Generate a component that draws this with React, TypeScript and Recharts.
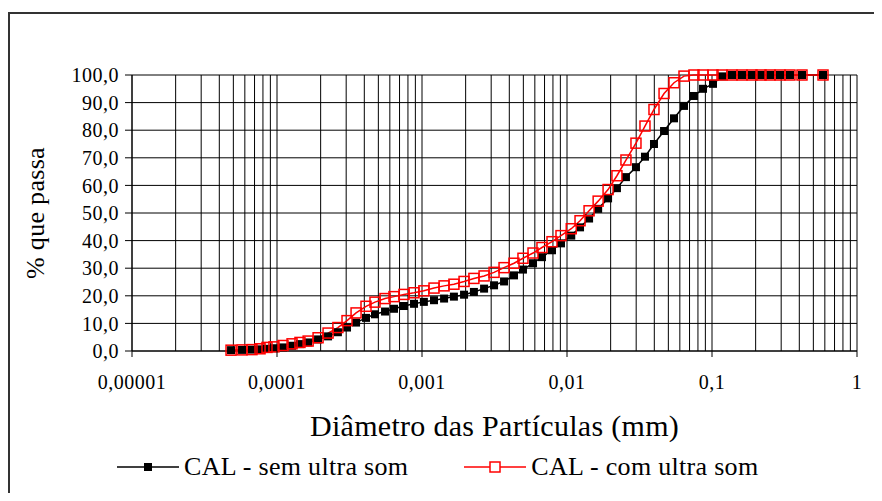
import { LineChart, Line, XAxis, YAxis, CartesianGrid, Legend } from 'recharts'

// diâmetro das partículas (mm)
const diametros = [
  0.0000482, 0.0000574, 0.0000672, 0.0000764, 0.0000853, 0.0000953, 0.00011, 0.000127,
  0.000144, 0.000164, 0.000192, 0.000225, 0.000263, 0.000304, 0.000351, 0.000411,
  0.000474, 0.000556, 0.000641, 0.000751, 0.000881, 0.00103, 0.00121, 0.00142,
  0.00166, 0.00195, 0.00228, 0.00268, 0.00314, 0.00368, 0.00431, 0.00497,
  0.00583, 0.00672, 0.00788, 0.00909, 0.0107, 0.0123, 0.0142, 0.0164,
  0.0192, 0.0221, 0.0255, 0.0299, 0.0345, 0.0398, 0.0467, 0.0547,
  0.0641, 0.0751, 0.0867, 0.1016, 0.1172, 0.1374, 0.161, 0.1888,
  0.2178, 0.2512, 0.2944, 0.345, 0.4175, 0.5829,
]

// % que passa
const semUltraSom = [
  0.3, 0.4, 0.5, 0.6, 0.8, 1.0, 1.3, 1.9,
  2.5, 3.1, 4.2, 5.3, 6.8, 8.5, 10.3, 12.0,
  13.3, 14.3, 15.3, 16.3, 17.1, 17.8, 18.4, 19.0,
  19.7, 20.4, 21.4, 22.6, 23.8, 25.2, 27.4, 29.5,
  31.8, 34.0, 36.5, 39.0, 41.8, 44.8, 48.0, 51.5,
  55.3, 59.0, 63.0, 66.6, 70.4, 75.0, 79.7, 84.3,
  88.8, 92.4, 95.0, 96.8, 99.5, 100, 100, 100,
  100, 100, 100, 100, 100, 100,
]

const comUltraSom = [
  0.3, 0.4, 0.5, 0.8, 1.3, 1.5, 2.0, 2.6,
  3.1, 3.6, 4.8, 6.5, 8.5, 11.0, 13.8, 16.2,
  17.7, 19.0, 19.7, 20.5, 21.1, 21.8, 22.8, 23.6,
  24.2, 25.2, 26.3, 27.2, 28.5, 30.2, 31.8, 33.6,
  35.5, 37.5, 39.6, 41.8, 44.3, 47.2, 50.8, 54.3,
  58.5, 63.5, 69.2, 75.3, 81.5, 87.5, 93.3, 97.2,
  99.6, 100, 100, 100, 100, 100, 100, 100,
  100, 100, 100, 100, 100, 100,
]

const decadas = [0.00001, 0.0001, 0.001, 0.01, 0.1, 1]
const rotulosX = ['0,00001', '0,0001', '0,001', '0,01', '0,1', '1']
const ticksY = [0, 10, 20, 30, 40, 50, 60, 70, 80, 90, 100]
const multiplicadores = [1, 2, 3, 4, 5, 6, 7, 8, 9]

const ticksX = [
  ...decadas.slice(0, -1).flatMap((d) => multiplicadores.map((m) => d * m)),
  1,
]

const data = diametros.map((d, i) => ({
  d,
  sem: semUltraSom[i],
  com: comUltraSom[i],
}))

const FONT = "'Liberation Serif', 'Times New Roman', serif"

function XTick({ x, y, payload }: any) {
  const v = payload.value
  const idx = decadas.findIndex((d) => Math.abs(Math.log10(v) - Math.log10(d)) < 1e-6)
  if (idx < 0) return <g />
  return (
    <g>
      <line x1={x} x2={x} y1={y} y2={y + 6} stroke="#000" strokeWidth={1} />
      <text
        x={x}
        y={y + 31}
        textAnchor="middle"
        dominantBaseline="central"
        fill="#000"
        style={{ fontFamily: FONT, fontSize: 20, letterSpacing: 0.5 }}
      >
        {rotulosX[idx]}
      </text>
    </g>
  )
}

function BlackDot(p: any) {
  if (p.cx == null || p.cy == null) return <g key={`b-${p.index}`} />
  return <rect key={`b-${p.index}`} x={p.cx - 4} y={p.cy - 4} width={8} height={8} fill="#000" />
}

function RedDot(p: any) {
  if (p.cx == null || p.cy == null) return <g key={`r-${p.index}`} />
  return (
    <rect
      key={`r-${p.index}`}
      x={p.cx - 5}
      y={p.cy - 5}
      width={10}
      height={10}
      fill="none"
      stroke="#ff0000"
      strokeWidth={1.5}
    />
  )
}

function LegendContent() {
  const item = (color: string, filled: boolean, text: string) => (
    <div style={{ display: 'flex', alignItems: 'center' }}>
      <svg width={62} height={14}>
        <line x1={0} x2={62} y1={7} y2={7} stroke={color} strokeWidth={1.5} />
        {filled ? (
          <rect x={27} y={3} width={8} height={8} fill={color} />
        ) : (
          <rect x={26} y={2} width={10} height={10} fill="#fff" stroke={color} strokeWidth={1.5} />
        )}
      </svg>
      <span style={{ marginLeft: 5, fontFamily: FONT, fontSize: 26, letterSpacing: 0.3, color: '#000', lineHeight: '28px' }}>
        {text}
      </span>
    </div>
  )
  return (
    <div style={{ display: 'flex', alignItems: 'center', gap: 56, paddingLeft: 109, height: 28 }}>
      {item('#000', true, 'CAL - sem ultra som')}
      {item('#ff0000', false, 'CAL - com ultra som')}
    </div>
  )
}

export default function App() {
  return (
    <div style={{ position: 'relative', width: 866, height: 485, overflow: 'hidden', background: '#fff' }}>
      <div
        style={{
          position: 'absolute',
          left: 0,
          top: 4,
          width: 900,
          height: 600,
          borderLeft: '2px solid #333',
          borderTop: '2px solid #333',
          pointerEvents: 'none',
        }}
      />
      <LineChart
        width={866}
        height={485}
        data={data}
        margin={{ top: 67, right: 17, bottom: 0, left: 0 }}
        style={{ position: 'absolute', left: 0, top: 0 }}
      >
        <CartesianGrid stroke="#000" strokeWidth={1} />
        <XAxis
          dataKey="d"
          type="number"
          scale="log"
          domain={[0.00001, 1]}
          ticks={ticksX}
          interval={0}
          height={114}
          axisLine={{ stroke: '#000' }}
          tickLine={false}
          tickSize={0}
          tickMargin={0}
          tick={<XTick />}
          label={{
            content: ({ viewBox }: any) => (
              <text
                x={viewBox.x + viewBox.width / 2}
                y={viewBox.y + 74}
                textAnchor="middle"
                dominantBaseline="central"
                fill="#000"
                style={{ fontFamily: FONT, fontSize: 30, letterSpacing: 0.3 }}
              >
                Diâmetro das Partículas (mm)
              </text>
            ),
          }}
        />
        <YAxis
          type="number"
          domain={[0, 100]}
          ticks={ticksY}
          interval={0}
          width={124}
          axisLine={{ stroke: '#000' }}
          tickLine={{ stroke: '#000' }}
          tickSize={7}
          tickMargin={6}
          tickFormatter={(v: number) => v.toFixed(1).replace('.', ',')}
          tick={{ fill: '#000', fontFamily: FONT, fontSize: 20, letterSpacing: 0.5 }}
          label={{
            content: ({ viewBox }: any) => (
              <text
                transform={`translate(${viewBox.x + 27}, ${viewBox.y + viewBox.height / 2}) rotate(-90)`}
                textAnchor="middle"
                dominantBaseline="central"
                fill="#000"
                style={{ fontFamily: FONT, fontSize: 26, letterSpacing: 0.3 }}
              >
                % que passa
              </text>
            ),
          }}
        />
        <Legend
          content={<LegendContent />}
          wrapperStyle={{ position: 'absolute', left: 0, top: 445, width: 866 }}
        />
        <Line
          dataKey="sem"
          name="CAL - sem ultra som"
          stroke="#000"
          strokeWidth={1.5}
          dot={BlackDot}
          activeDot={false}
          isAnimationActive={false}
        />
        <Line
          dataKey="com"
          name="CAL - com ultra som"
          stroke="#ff0000"
          strokeWidth={1.5}
          dot={RedDot}
          activeDot={false}
          isAnimationActive={false}
        />
      </LineChart>
    </div>
  )
}
